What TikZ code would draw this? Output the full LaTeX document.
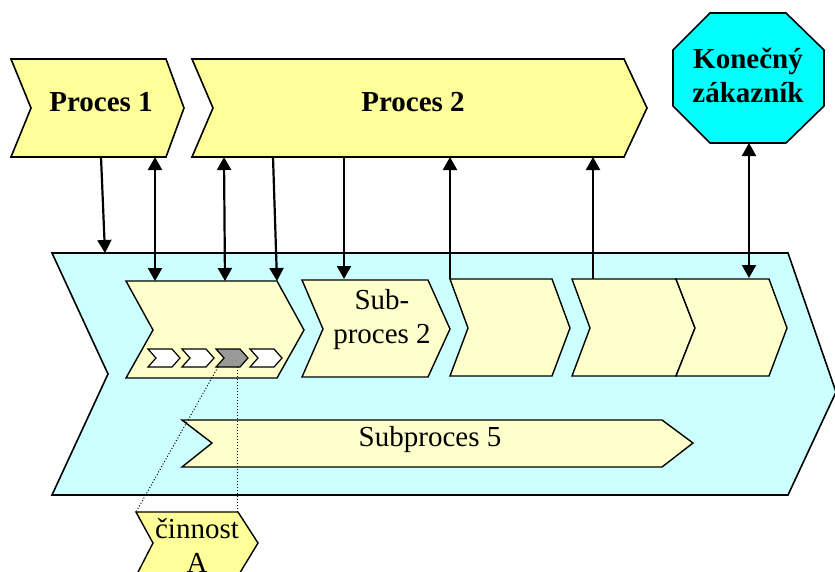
\documentclass[tikz,border=0pt]{standalone}
\usepackage{fontspec}
\setmainfont{Liberation Serif}
\usetikzlibrary{arrows.meta}
\definecolor{procyellow}{HTML}{FFFF99}
\definecolor{subyellow}{HTML}{FFFFCC}
\definecolor{chainblue}{HTML}{CCFFFF}
\definecolor{custcyan}{HTML}{00FFFF}
\definecolor{actgray}{HTML}{999999}
\begin{document}
\begin{tikzpicture}[x=1pt, y=-1pt,
    proc/.style={draw=black, fill=procyellow, line width=1.6pt, line join=miter},
    sub/.style={draw=black, fill=subyellow, line width=1.4pt, line join=miter},
    act/.style={draw=black, fill=white, line width=1.2pt},
    link/.style={line width=2.2pt, -{Triangle[length=13pt,width=14pt]}},
    both/.style={line width=2.2pt, {Triangle[length=13pt,width=14pt]}-{Triangle[length=13pt,width=14pt]}},
    every node/.style={font=\fontsize{29}{34}\selectfont, align=center}]

  \useasboundingbox (0,0) rectangle (835,571);

  % Value chain
  \filldraw[draw=black, fill=chainblue, line width=1.6pt]
    (52,253) -- (788,253) -- (836,392) -- (788,495) -- (52,495) -- (108,374) -- cycle;

  % Proces 1 and Proces 2
  \filldraw[proc] (11,59) -- (166,59) -- (184,108) -- (166,157) -- (11,157) -- (31,108) -- cycle;
  \node[font=\fontsize{29}{34}\selectfont\bfseries] (p1) at (101,102) {Proces 1};
  \filldraw[proc] (192,59) -- (624,59) -- (647,108) -- (624,157) -- (192,157) -- (213,108) -- cycle;
  \node[font=\fontsize{29}{34}\selectfont\bfseries] (p2) at (413,102) {Proces 2};

  % Konecny zakaznik
  \filldraw[draw=black, fill=custcyan, line width=1.6pt]
    (710,13) -- (786,13) -- (824,50) -- (824,106) -- (786,143) -- (710,143) -- (673,106) -- (673,50) -- cycle;
  \node[font=\fontsize{29}{34}\selectfont\bfseries] (kz) at (748,75) {Konečný\\zákazník};

  % Subprocesy
  \filldraw[sub] (126,281) -- (277,281) -- (304,330) -- (277,378) -- (126,378) -- (153,330) -- cycle;
  \filldraw[sub] (302,280) -- (428,280) -- (450,329) -- (428,377) -- (302,377) -- (323,329) -- cycle;
  \node (s2) at (382,320) {Sub-\\proces 2};
  \filldraw[sub] (450,279) -- (552,279) -- (570,328) -- (552,376) -- (450,376) -- (468,328) -- cycle;
  \filldraw[sub] (572,279) -- (676,279) -- (695,328) -- (676,376) -- (572,376) -- (590,328) -- cycle;
  \filldraw[sub] (676,279) -- (769,279) -- (787,328) -- (769,376) -- (676,376) -- (695,328) -- cycle;
  \filldraw[sub] (182,420) -- (662,420) -- (693,443) -- (662,467) -- (182,467) -- (212,443) -- cycle;
  \node (s5) at (430,440) {Subproces 5};

  % Cinnosti
  \filldraw[act] (148,349) -- (172,349) -- (180,358) -- (172,367) -- (148,367) -- (156,358) -- cycle;
  \filldraw[act] (182,349) -- (206,349) -- (214,358) -- (206,367) -- (182,367) -- (190,358) -- cycle;
  \filldraw[act, fill=actgray] (216,349) -- (240,349) -- (248,358) -- (240,367) -- (216,367) -- (224,358) -- cycle;
  \filldraw[act] (250,349) -- (274,349) -- (282,358) -- (274,367) -- (250,367) -- (258,358) -- cycle;

  % cinnost A
  \filldraw[proc, line width=1.4pt] (136,512) -- (238,512) -- (258,543) -- (238,576) -- (136,576) -- (153,543) -- cycle;
  \node (cA) at (197,545) {činnost\\A};
  \coordinate (ga) at (218,367);
  \coordinate (gb) at (237,367);
  \coordinate (ca) at (136,512);
  \coordinate (cb) at (237,512);
  \draw[dotted, line width=1pt] (ga) -- (ca);
  \draw[dotted, line width=1pt] (gb) -- (cb);

  % Vazby
  \coordinate (t1) at (101,157);  \coordinate (b1) at (105,253);
  \coordinate (t2) at (155,157);  \coordinate (b2) at (155,281);
  \coordinate (t3) at (224,157);  \coordinate (b3) at (225,281);
  \coordinate (t4) at (273,157);  \coordinate (b4) at (277,281);
  \coordinate (t5) at (344,157);  \coordinate (b5) at (344,279);
  \coordinate (t6) at (450,157);  \coordinate (b6) at (450,279);
  \coordinate (t7) at (593,157);  \coordinate (b7) at (593,279);
  \coordinate (t8) at (749,143);  \coordinate (b8) at (749,278);
  \draw[link] (t1) -- (b1);
  \draw[both] (t2) -- (b2);
  \draw[both] (t3) -- (b3);
  \draw[link] (t4) -- (b4);
  \draw[link] (t5) -- (b5);
  \draw[link] (b6) -- (t6);
  \draw[link] (b7) -- (t7);
  \draw[both] (t8) -- (b8);

\end{tikzpicture}
\end{document}
